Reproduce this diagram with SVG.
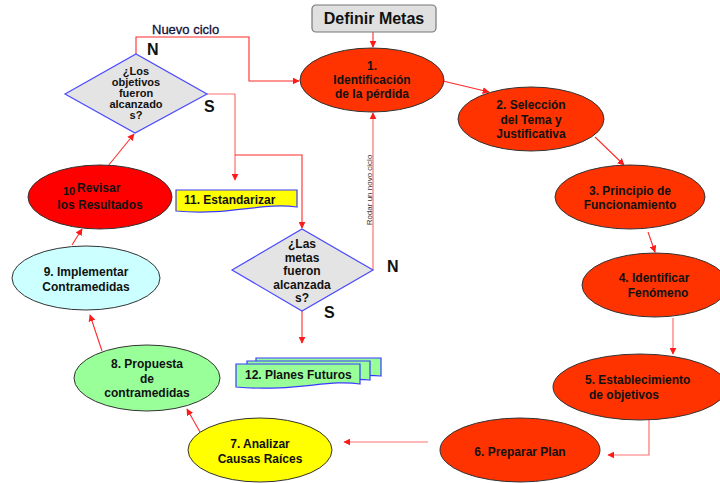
<svg xmlns="http://www.w3.org/2000/svg" width="720" height="483" viewBox="0 0 720 483">
<style>
text{font-family:"Liberation Sans",Arial,sans-serif;font-weight:bold;font-size:12px;fill:#111;text-anchor:middle}
.n{stroke:#333;stroke-width:1}
.org{fill:#ff3300}
.c{fill:none;stroke:#ff2a2a;stroke-width:1.1}
.cl{fill:none;stroke:#ff7070;stroke-width:1.2}
.dia{fill:#e4e4e4;stroke:#4a4aff;stroke-width:1.2}
.doc{stroke:#3a3aff;stroke-width:1.2}
.big{font-size:16px}
.sm{font-size:11px}
</style>
<defs>
<marker id="ah" viewBox="0 0 10 10" refX="9" refY="5" markerWidth="7" markerHeight="7" markerUnits="userSpaceOnUse" orient="auto">
<path d="M0,0 L10,5 L0,10 Z" fill="#ff1a1a"/>
</marker>
</defs>
<rect width="720" height="483" fill="#fff"/>

<g id="connectors">
<path class="c" d="M373,32 V47" marker-end="url(#ah)"/>
<path class="c" d="M443,81 L489,92" marker-end="url(#ah)"/>
<path class="c" d="M595,137 L624,165" marker-end="url(#ah)"/>
<path class="c" d="M648,232 L655,252" marker-end="url(#ah)"/>
<path class="cl" d="M673,318 V354" marker-end="url(#ah)"/>
<path class="cl" d="M649,419 V455 H608" marker-end="url(#ah)"/>
<path class="cl" d="M428,442 H344" marker-end="url(#ah)"/>
<path class="c" d="M200,432 L187,409" marker-end="url(#ah)"/>
<path class="c" d="M102,351 L90,315" marker-end="url(#ah)"/>
<path class="c" d="M72,245 L82,229" marker-end="url(#ah)"/>
<path class="c" d="M108,166 L134,134" marker-end="url(#ah)"/>
<path class="c" d="M136,54 V37 H249 V81 H299" marker-end="url(#ah)"/>
<path class="cl" d="M207,94 H235 V180" marker-end="url(#ah)"/>
<path class="c" d="M235,155 H302 V228" marker-end="url(#ah)"/>
<path class="cl" d="M373,270 V113" marker-end="url(#ah)"/>
<path class="c" d="M302,311 V343" marker-end="url(#ah)"/>
<text x="152" y="34" style="font-weight:normal;font-size:13px;fill:#10103a;stroke:#10103a;stroke-width:0.3;text-anchor:start">Nuevo ciclo</text>
<text x="147" y="55" class="big" style="text-anchor:start">N</text>
<text x="204" y="112" class="big" style="text-anchor:start">S</text>
<text x="387" y="272" class="big" style="text-anchor:start">N</text>
<text x="324" y="318" class="big" style="text-anchor:start">S</text>
<text transform="translate(372,190) rotate(-90)" style="font-weight:normal;font-size:8px;fill:#333">Rodar un novo ciclo</text>
</g>

<g id="definir-metas">
<rect x="312" y="5" width="124" height="27" rx="4" fill="#e0e0e0" stroke="#777" stroke-width="1.2"/>
<text x="374" y="24" class="big">Definir Metas</text>
</g>

<g id="n1">
<ellipse cx="372" cy="80" rx="72" ry="32" class="n org"/>
<text x="372" y="70">1.</text>
<text x="372" y="84">Identificación</text>
<text x="372" y="98">de la pérdida</text>
</g>

<g id="n2">
<ellipse cx="531" cy="119" rx="73" ry="32" class="n org"/>
<text x="531" y="109">2. Selección</text>
<text x="531" y="124">del Tema y</text>
<text x="531" y="138">Justificativa</text>
</g>

<g id="n3">
<ellipse cx="630" cy="197" rx="75" ry="32" class="n org"/>
<text x="630" y="195">3. Principio de</text>
<text x="630" y="209">Funcionamiento</text>
</g>

<g id="n4">
<ellipse cx="655" cy="285" rx="73" ry="32" class="n org"/>
<text x="654" y="282">4. Identificar</text>
<text x="658" y="297">Fenómeno</text>
</g>

<g id="n5">
<ellipse cx="640" cy="387" rx="87" ry="33" class="n org"/>
<text x="585" y="384" style="text-anchor:start">5. Establecimiento</text>
<text x="589" y="399" style="text-anchor:start">de objetivos</text>
</g>

<g id="n6">
<ellipse cx="520" cy="450" rx="80" ry="32" class="n org"/>
<text x="520" y="456">6. Preparar Plan</text>
</g>

<g id="n7">
<ellipse cx="260" cy="450" rx="72" ry="32" class="n" fill="#ffff00"/>
<text x="260" y="448">7. Analizar</text>
<text x="260" y="463">Causas Raíces</text>
</g>

<g id="n8">
<ellipse cx="147" cy="378" rx="73" ry="33" class="n" fill="#99ff99"/>
<text x="147" y="368">8. Propuesta</text>
<text x="147" y="383">de</text>
<text x="147" y="397">contramedidas</text>
</g>

<g id="n9">
<ellipse cx="86" cy="278" rx="74" ry="32" class="n" fill="#ccffff"/>
<text x="86" y="276">9. Implementar</text>
<text x="86" y="291">Contramedidas</text>
</g>

<g id="n10">
<ellipse cx="100" cy="197" rx="72" ry="32" class="n" fill="#ff0000"/>
<text x="63" y="195" style="text-anchor:start;font-size:11px">10</text>
<text x="77" y="192" style="text-anchor:start">Revisar</text>
<text x="100" y="209">los Resultados</text>
</g>

<g id="decision1">
<polygon points="65,94 136,54 207,94 135,133" class="dia"/>
<text x="136" y="75" class="sm">¿Los</text>
<text x="136" y="86" class="sm">objetivos</text>
<text x="136" y="97" class="sm">fueron</text>
<text x="136" y="108" class="sm">alcanzado</text>
<text x="136" y="119" class="sm">s?</text>
</g>

<g id="n11">
<path d="M176,190 H297 V207 C262,202 230,216 176,211 Z" class="doc" fill="#ffff00"/>
<text x="184" y="204" style="text-anchor:start">11. Estandarizar</text>
</g>

<g id="decision2">
<polygon points="232,270 302,229 373,270 302,311" class="dia"/>
<text x="302" y="248">¿Las</text>
<text x="302" y="262">metas</text>
<text x="302" y="275">fueron</text>
<text x="302" y="289">alcanzada</text>
<text x="302" y="302">s?</text>
</g>

<g id="n12">
<path d="M256,358 H381 V376 C350,372 320,383 256,378 Z" class="doc" fill="#99ff99"/>
<path d="M247,361 H370 V380 C340,376 310,387 247,382 Z" class="doc" fill="#99ff99"/>
<path d="M236,364 H360 V384 C328,379 296,392 236,387 Z" class="doc" fill="#99ff99"/>
<text x="245" y="379" style="text-anchor:start">12. Planes Futuros</text>
</g>
</svg>
